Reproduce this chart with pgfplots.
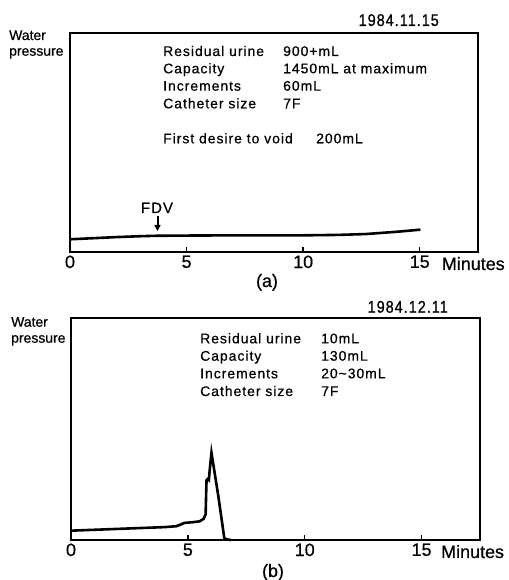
\documentclass[border=0pt]{standalone}
\usepackage{fontspec}
\setmainfont[FakeBold=0.6]{Liberation Sans}
\newfontfamily\spaced[LetterSpace=7,FakeBold=0.6]{Liberation Sans}
\newfontfamily\datefont[FakeStretch=0.85,LetterSpace=6,FakeBold=0.8]{Liberation Sans}
\usepackage{pgfplots}
\pgfplotsset{compat=1.18}
\usetikzlibrary{arrows.meta}
\newcommand\fs[1]{\fontsize{#1}{#1}\selectfont}

\begin{document}
\begin{tikzpicture}[x=1bp,y=1bp]
\path[use as bounding box] (0,0) rectangle (509,580);
\pgfplotsset{panel/.style={
    scale only axis, anchor=south west,
    xmin=0, xmax=17.5, ymin=0, ymax=100,
    xtick={0,5,10,15}, ytick=\empty,
    xtick pos=bottom, tick align=inside,
    major tick length=5bp,
    axis line style={line width=2bp},
    every tick/.style={line width=1.5bp, black},
    xticklabel style={font=\fs{18}},
    /pgf/number format/assume math mode=true,
    clip=false,
}}

% ---- panel (a)
\begin{axis}[panel, at={(70bp,328bp)}, width=408bp, height=219bp]
\addplot[line width=2.6bp, black] coordinates {
    (0,5.8) (1,6.3) (2,6.8) (3,7.2) (3.7,7.4) (5,7.5) (7,7.6) (9.9,7.6)
    (11.5,7.8) (12.7,8.2) (14.1,9.3) (15.03,10.2)
};
\end{axis}
\node[anchor=base west, inner sep=0, font=\fs{14}] at (9,540) {Water};
\node[anchor=base west, inner sep=0, font=\fs{14}] at (9,524.3) {pressure};
\node[anchor=base east, inner sep=0, font=\datefont\fs{17}] at (439,554) {1984.11.15};
\begin{scope}[font=\spaced\fs{14}]
\node[anchor=base west, inner sep=0] at (163,524) {Residual urine};
\node[anchor=base west, inner sep=0] at (163,506.7) {Capacity};
\node[anchor=base west, inner sep=0] at (163,489.3) {Increments};
\node[anchor=base west, inner sep=0] at (163,471.7) {Catheter size};
\node[anchor=base west, inner sep=0] at (283,524) {900+mL};
\node[anchor=base west, inner sep=0] at (283,506.7) {1450mL at maximum};
\node[anchor=base west, inner sep=0] at (283,489.3) {60mL};
\node[anchor=base west, inner sep=0] at (283,471.7) {7F};
\node[anchor=base west, inner sep=0] at (163,436.7) {First desire to void};
\node[anchor=base west, inner sep=0] at (316,436.7) {200mL};
\end{scope}
\node[anchor=base, inner sep=0, font=\spaced\fs{15}] at (157,367) {FDV};
\draw[line width=2bp, -{Triangle[length=6bp,width=6bp]}] (157.5,364) -- (157.5,349);
\node[anchor=base west, inner sep=0, font=\fs{18}] at (441.7,310) {Minutes};
\node[anchor=base, inner sep=0, font=\fs{18}] at (267,293) {(a)};

% ---- panel (b)
\begin{axis}[panel, at={(71bp,40bp)}, width=409bp, height=222bp]
\addplot[line width=2.6bp, black] coordinates {
    (0,4.2) (1,4.6) (2,5.0) (3,5.4) (4,5.8) (4.5,6.2) (4.7,7.0) (4.85,7.7)
    (5.2,8.0) (5.5,8.4) (5.67,9.5) (5.76,11.5) (5.78,20) (5.8,27) (5.85,27.5)
    (5.9,27) (5.93,31) (6.01,39.3) (6.3,20) (6.56,0.8) (6.7,0.2) (6.85,0)
};
\end{axis}
\node[anchor=base west, inner sep=0, font=\fs{14}] at (11,253.3) {Water};
\node[anchor=base west, inner sep=0, font=\fs{14}] at (11,237.3) {pressure};
\node[anchor=base east, inner sep=0, font=\datefont\fs{17}] at (448,267.3) {1984.12.11};
\begin{scope}[font=\spaced\fs{14}]
\node[anchor=base west, inner sep=0] at (200,236.7) {Residual urine};
\node[anchor=base west, inner sep=0] at (200,219.3) {Capacity};
\node[anchor=base west, inner sep=0] at (200,201.7) {Increments};
\node[anchor=base west, inner sep=0] at (200,184) {Catheter size};
\node[anchor=base west, inner sep=0] at (321,236.7) {10mL};
\node[anchor=base west, inner sep=0] at (321,219.3) {130mL};
\node[anchor=base west, inner sep=0] at (321,201.7) {20\textasciitilde30mL};
\node[anchor=base west, inner sep=0] at (321,184) {7F};
\end{scope}
\node[anchor=base west, inner sep=0, font=\fs{18}] at (441,22) {Minutes};
\node[anchor=base, inner sep=0, font=\fs{18}] at (273,3) {(b)};
\end{tikzpicture}
\end{document}
